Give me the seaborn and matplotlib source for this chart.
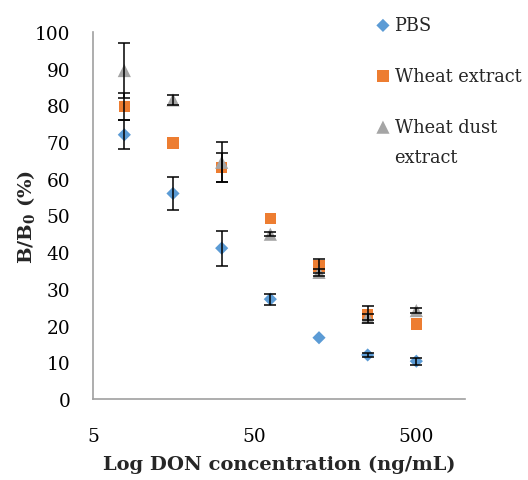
import matplotlib
matplotlib.use("Agg")
import matplotlib.pyplot as plt
import seaborn as sns
import pandas as pd

# DON concentration (ng/mL)
conc = [7.8125, 15.625, 31.25, 62.5, 125, 250, 500]

pbs = [72.0, 56.0, 41.1, 27.2, 16.7, 12.0, 10.3]
pbs_err = [3.9, 4.6, 4.8, 1.5, 0.0, 0.6, 1.0]

wheat = [79.7, 69.7, 63.1, 49.2, 36.2, 23.0, 20.4]
wheat_err = [3.6, 0.0, 4.0, 0.0, 2.0, 2.4, 0.0]

dust = [89.5, 81.5, 64.5, 44.9, 34.5, 22.3, 24.1]
dust_err = [7.6, 1.3, 5.4, 0.6, 1.0, 0.8, 0.6]

series = ["PBS", "Wheat extract", "Wheat dust"]
colors = ["#5B9BD5", "#ED7D31", "#A5A5A5"]
markers = ["D", "s", "^"]
sizes = [45, 70, 90]

rows = []
for name, vals, errs in zip(series, [pbs, wheat, dust], [pbs_err, wheat_err, dust_err]):
    for c, v, e in zip(conc, vals, errs):
        rows.append({"conc": c, "value": v, "err": e, "sample": name})
df = pd.DataFrame(rows)

sns.set_style("white")
plt.rcParams["font.family"] = ["DejaVu Serif"]
plt.rcParams["mathtext.fontset"] = "dejavuserif"

fig = plt.figure(figsize=(5.28, 4.81), dpi=100)
ax = fig.add_axes([93 / 528, 81 / 481, 372 / 528, 367 / 481])

for name, col, mk, sz in zip(series, colors, markers, sizes):
    sub = df[df["sample"] == name]
    sns.scatterplot(data=sub, x="conc", y="value", color=col, marker=mk, s=sz,
                    edgecolor="none", ax=ax, label=name, zorder=2)
    eb = sub[sub["err"] > 0]
    ax.errorbar(eb["conc"], eb["value"], yerr=eb["err"], fmt="none",
                ecolor="black", elinewidth=1.1, capsize=4, capthick=1.1, zorder=3)

ax.set_xscale("log")
ax.set_xlim(5, 1000)
ax.set_ylim(0, 100)
ax.set_xticks([5, 50, 500])
ax.set_xticklabels(["5", "50", "500"])
ax.set_yticks(range(0, 101, 10))
ax.minorticks_off()

for s in ["top", "right"]:
    ax.spines[s].set_visible(False)
for s in ["left", "bottom"]:
    ax.spines[s].set_color("#A0A0A0")
    ax.spines[s].set_linewidth(1.2)
ax.tick_params(axis="both", which="major", direction="out", length=5.5, width=1.2,
               color="#A0A0A0", labelsize=13.3, labelcolor="black")
ax.tick_params(axis="x", pad=15)
ax.tick_params(axis="y", pad=11)

ax.set_xlabel("Log DON concentration (ng/mL)", fontsize=14, fontweight="bold", labelpad=7)
ax.set_ylabel("B/B$_\\mathbf{0}$ (%)", fontsize=14, fontweight="bold", labelpad=-2)

leg = ax.legend(loc="upper left", bbox_to_anchor=(357 / 528, 1.0), bbox_transform=fig.transFigure,
                frameon=False, fontsize=12.8, handletextpad=0.15, labelspacing=1.85,
                handlelength=1.0, borderaxespad=0.56)

# second line of the last legend label
fig.canvas.draw()
bb = leg.get_texts()[2].get_window_extent()
fig.text(bb.x0, bb.y0 - 30, "extract", transform=None, fontsize=12.8, va="bottom")

fig.savefig("out.png", dpi=100)
